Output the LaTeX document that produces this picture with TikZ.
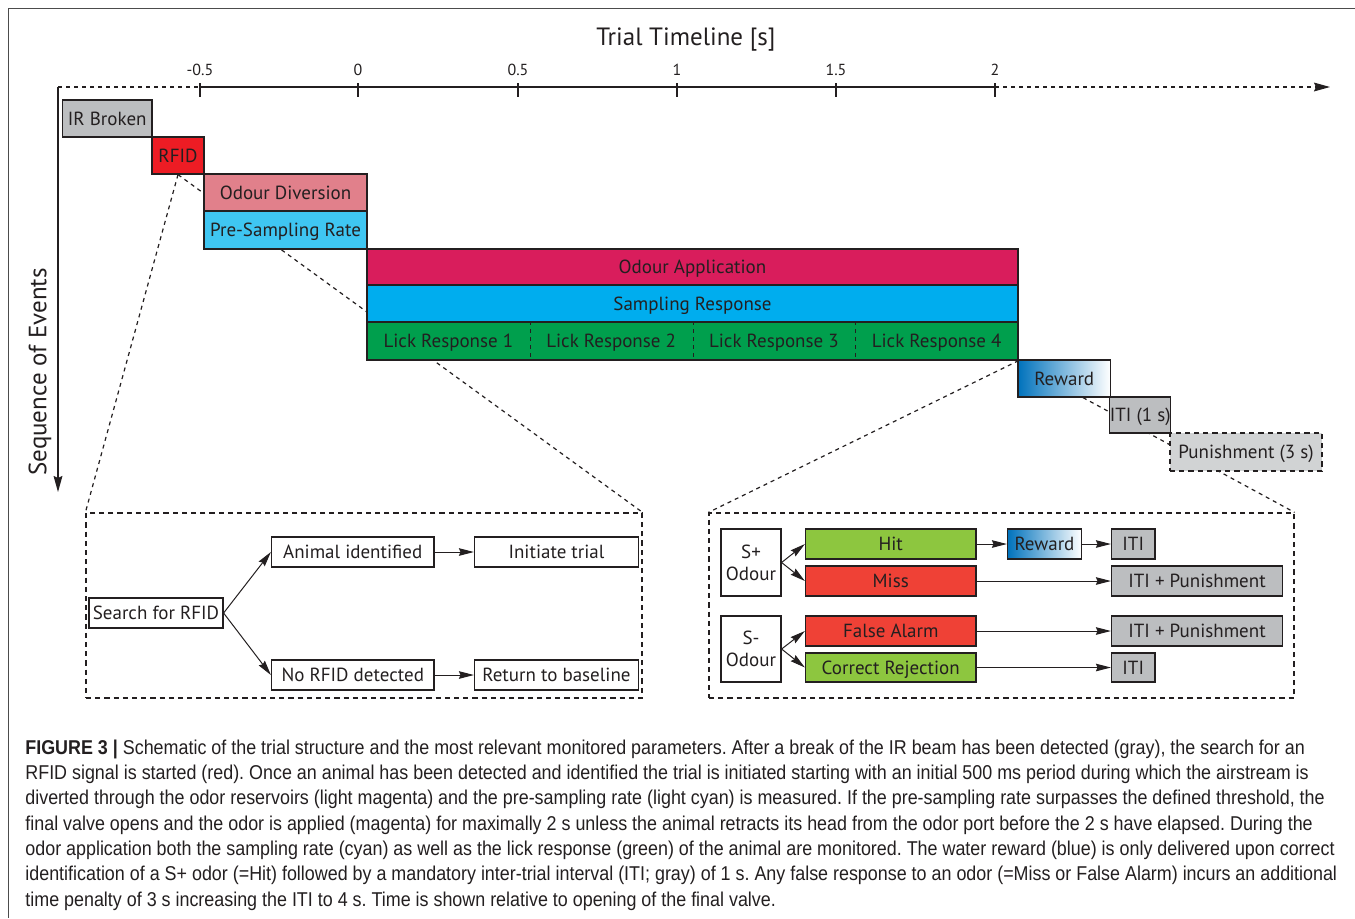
\documentclass[tikz,border=0pt]{standalone}
\usepackage{fontspec}
\setmainfont{PT Sans}
\newfontfamily\capfont[FakeStretch=0.895]{Liberation Sans}
\usetikzlibrary{arrows.meta,calc,backgrounds}

\definecolor{ink}{HTML}{231F20}
\definecolor{irgray}{HTML}{BCBEC0}
\definecolor{rfidred}{HTML}{ED1C24}
\definecolor{divpink}{HTML}{E1808B}
\definecolor{precyan}{HTML}{3FC6F2}
\definecolor{appmag}{HTML}{D91D5C}
\definecolor{sampcyan}{HTML}{00ADEE}
\definecolor{lickgreen}{HTML}{009F4D}
\definecolor{rewblue}{HTML}{0072BC}
\definecolor{punlight}{HTML}{D1D3D4}
\definecolor{hitgreen}{HTML}{8DC63F}
\definecolor{missred}{HTML}{EF4136}

\tikzset{
  evbase/.style={draw=ink,line width=0.6pt,inner sep=0pt,text=ink},
  ev/.style={evbase,text height=6.7pt,text depth=0pt},
  cell/.style args={#1/#2/#3/#4}{at={({(#1+#3)/2},{(#2+#4)/2})},
    minimum width={(#3-#1)*0.5pt},minimum height={(#4-#2)*0.5pt}},
  zoomframe/.style={draw=ink,line width=0.6pt,inner sep=0pt,dash pattern=on 2.6pt off 2pt},
  guide/.style={draw=ink,line width=0.6pt,dash pattern=on 2pt off 2pt},
  flow/.style={draw=ink,line width=0.5pt,-{Stealth[length=7.5pt,width=3.8pt,inset=0.8pt]}},
}

\begin{document}
\begin{tikzpicture}[x=0.5pt,y=-0.5pt,every node/.style={font=\fontsize{9.5}{11}\selectfont}]
\useasboundingbox (0,0) rectangle (1355,918);
% frame
\draw[black!70,line width=0.6pt] (1355,8.5) -- (8.5,8.5) -- (8.5,918);

% time axis
\node[text=ink,font=\fontsize{12.5}{14}\selectfont] (title) at (686,40) {Trial Timeline [s]};
\coordinate (ax0) at (58,87);
\coordinate (axs) at (200,87);
\coordinate (axe) at (995,87);
\coordinate (axtip) at (1330,87);
\coordinate (seqtip) at (58,492);
\draw[guide] (ax0) -- (axs);
\draw[ink,line width=0.6pt] (axs) -- (axe);
\draw[guide,-{Stealth[length=8pt,width=4.4pt,inset=1pt]}] (axe) -- (axtip);
\draw[ink,line width=0.6pt,-{Stealth[length=8pt,width=4.4pt,inset=1pt]}] (ax0) -- (seqtip);
\foreach \tx/\tl [count=\i] in {200/-0.5,358/0,518/0.5,677/1,836/1.5,995/2}{
  \draw[ink,line width=0.6pt] (\tx,83) -- (\tx,97);
  \node[text=ink,font=\fontsize{8}{9}\selectfont] (tick\i) at (\tx,70) {\tl};
}
\node[rotate=90,text=ink,font=\fontsize{12.5}{14}\selectfont] (seq) at (40,372) {Sequence of Events};

% sequence of events
\node[ev,fill=irgray,cell=62.5/100/152/137] (ir) {IR Broken};
\node[ev,fill=rfidred,cell=152/137/204/174] (rfid) {RFID};
\node[ev,fill=divpink,cell=204/174/367/211] (div) {Odour Diversion};
\node[ev,fill=precyan,cell=204/211/367/249] (pre) {Pre-Sampling Rate};
\node[ev,fill=appmag,cell=367/249/1018/285] (app) {Odour Application};
\node[ev,fill=sampcyan,cell=367/285/1018/322] (samp) {Sampling Response};
\node[ev,fill=lickgreen,cell=367/322/1018/360] (lick) {};
\foreach \lx [count=\i] in {367,529.75,692.5,855.25}{
  \node[ev,draw=none,cell=\lx/322/\lx+162.75/360] (lick\i) {Lick Response \i};
}
\foreach \i in {1,2,3}{
  \draw[ink,line width=0.5pt,dash pattern=on 2pt off 2pt] (lick\i.north east) -- (lick\i.south east);
}
\node[ev,left color=rewblue,right color=white,cell=1018/360/1110.5/397] (rwd) {Reward};
\node[ev,fill=irgray,cell=1110.5/397/1170/433] (iti) {ITI (1 s)};
\node[ev,fill=punlight,dash pattern=on 2.6pt off 2pt,cell=1170/433/1322/471] (pun) {Punishment (3 s)};

% zoomed panels
\node[zoomframe,cell=86/513/642/698] (zleft) {};
\node[zoomframe,cell=709/513/1294/698] (zright) {};

\begin{scope}[on background layer]
\draw[guide] (rfid.south) -- (zleft.north west);
\draw[guide] (rfid.south) -- (zleft.north east);
\draw[guide] (lick.south east) -- (zright.north west);
\draw[guide] ($(rwd.south west)!0.7!(rwd.south east)$) -- (zright.north east);
\end{scope}

% RFID panel
\node[ev,cell=89/598/223/628] (srch) {Search for RFID};
\node[ev,cell=271.5/537/434/567] (anim) {Animal identified};
\node[ev,cell=474.5/537/638.5/567] (init) {Initiate trial};
\node[ev,cell=271.5/660/434/690] (norf) {No RFID detected};
\node[ev,cell=474.5/660/638.5/690] (base) {Return to baseline};
\draw[flow] (srch.east) -- (anim.west);
\draw[flow] (srch.east) -- (norf.west);
\draw[flow] (anim) -- (init);
\draw[flow] (norf) -- (base);

% outcome panel
\node[evbase,align=center,cell=721/529/781/596] (splus) {S+\\Odour};
\node[evbase,align=center,cell=721/616/781/682] (sminus) {S-\\Odour};
\node[ev,fill=hitgreen,cell=805.5/529/976/559] (hit) {Hit};
\node[ev,fill=missred,cell=805.5/566/976/596] (miss) {Miss};
\node[ev,fill=missred,cell=805.5/616/976/646] (fa) {False Alarm};
\node[ev,fill=hitgreen,cell=805.5/653/976/682] (cr) {Correct Rejection};
\node[ev,left color=rewblue,right color=white,cell=1007.5/529/1081.5/559] (hitrwd) {Reward};
\node[ev,fill=irgray,cell=1111.5/529/1155/559] (iti1) {ITI};
\node[ev,fill=irgray,cell=1111.5/566/1282.5/596] (itip1) {ITI + Punishment};
\node[ev,fill=irgray,cell=1111.5/616/1282.5/646] (itip2) {ITI + Punishment};
\node[ev,fill=irgray,cell=1111.5/653/1155/682] (iti2) {ITI};
\draw[flow] (splus.east) -- (hit.west);
\draw[flow] (splus.east) -- (miss.west);
\draw[flow] (sminus.east) -- (fa.west);
\draw[flow] (sminus.east) -- (cr.west);
\draw[flow] (hit) -- (hitrwd);
\draw[flow] (hitrwd) -- (iti1);
\draw[flow] (miss) -- (itip1);
\draw[flow] (fa) -- (itip2);
\draw[flow] (cr) -- (iti2);

% caption
\node[anchor=base west,align=left,inner sep=0pt,text=ink,font=\capfont\frenchspacing\fontsize{10}{12.65}\selectfont] (cap) at (25,906) {\textbf{FIGURE 3 |} Schematic of the trial structure and the most relevant monitored parameters. After a break of the IR beam has been detected (gray), the search for an\\
RFID signal is started (red). Once an animal has been detected and identified the trial is initiated starting with an initial 500 ms period during which the airstream is\\
diverted through the odor reservoirs (light magenta) and the pre-sampling rate (light cyan) is measured. If the pre-sampling rate surpasses the defined threshold, the\\
final valve opens and the odor is applied (magenta) for maximally 2 s unless the animal retracts its head from the odor port before the 2 s have elapsed. During the\\
odor application both the sampling rate (cyan) as well as the lick response (green) of the animal are monitored. The water reward (blue) is only delivered upon correct\\
identification of a S+ odor (=Hit) followed by a mandatory inter-trial interval (ITI; gray) of 1 s. Any false response to an odor (=Miss or False Alarm) incurs an additional\\
time penalty of 3 s increasing the ITI to 4 s. Time is shown relative to opening of the final valve.};
\end{tikzpicture}
\end{document}
